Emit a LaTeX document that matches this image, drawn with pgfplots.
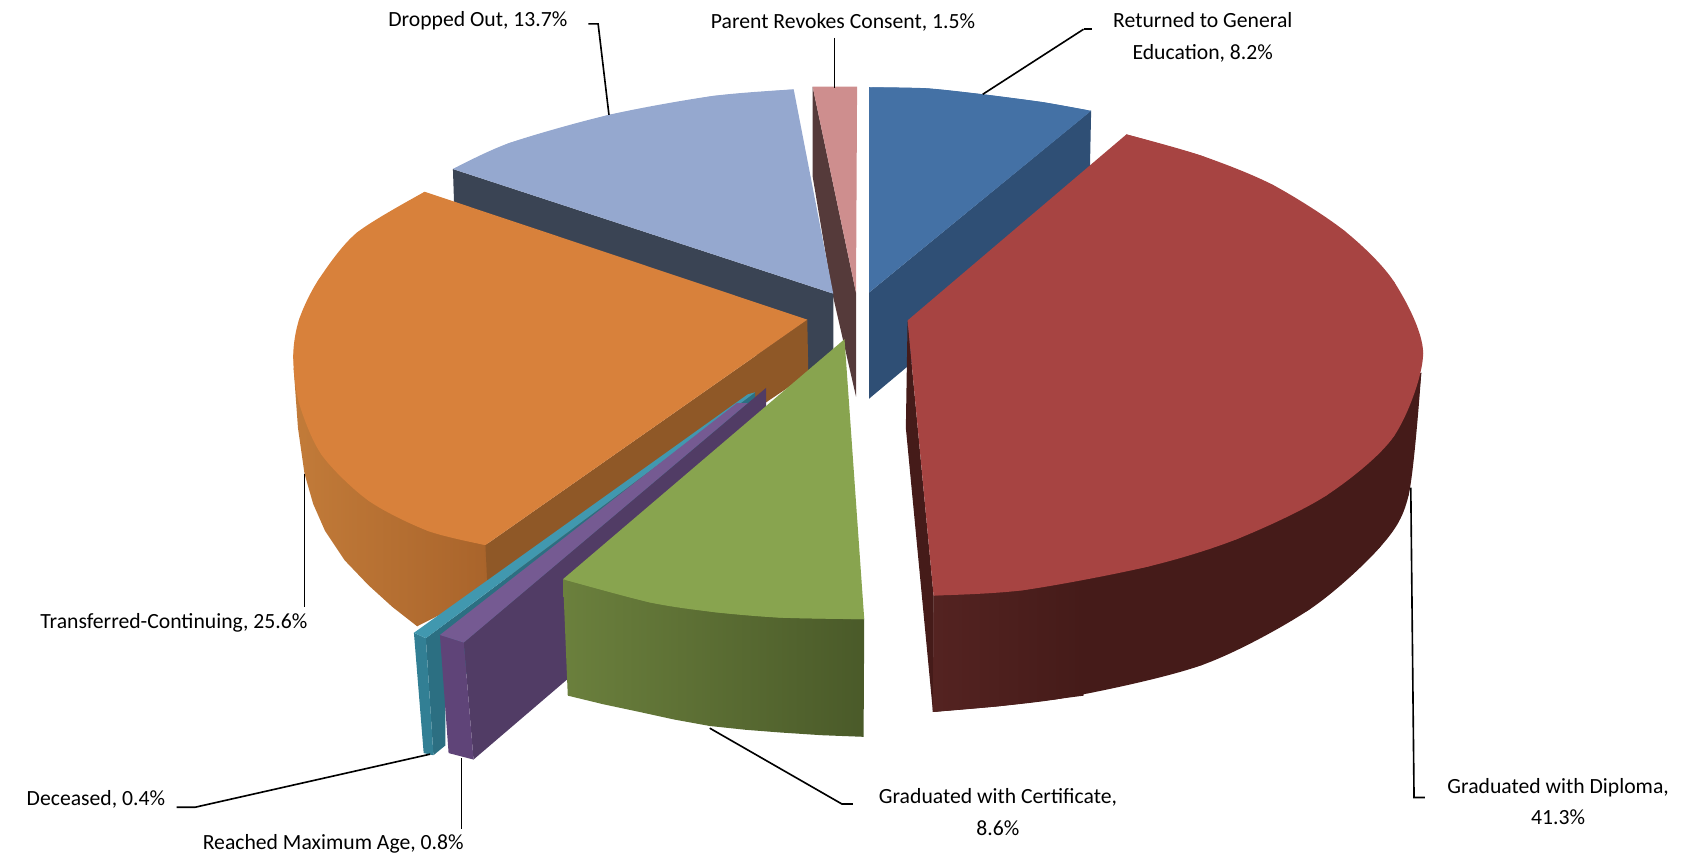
\documentclass[border=0pt]{standalone}
\usepackage{pgfplots}
\pgfplotsset{compat=1.18}
\usepackage{fontspec}
\setmainfont{Carlito}
\definecolor{bluetop}{HTML}{4471A5}
\definecolor{blueside}{HTML}{2F4F75}
\definecolor{redtop}{HTML}{A74442}
\definecolor{redside}{HTML}{451B19}
\definecolor{redwallL}{HTML}{542321}
\definecolor{greentop}{HTML}{88A44F}
\definecolor{greenL}{HTML}{6B803D}
\definecolor{greenR}{HTML}{4A5A29}
\definecolor{purptop}{HTML}{755A92}
\definecolor{purpfront}{HTML}{5F4478}
\definecolor{purpside}{HTML}{513C65}
\definecolor{tealtop}{HTML}{4198AF}
\definecolor{tealfront}{HTML}{327F94}
\definecolor{tealside}{HTML}{2C6F82}
\definecolor{orangetop}{HTML}{D8813B}
\definecolor{orangeside}{HTML}{8F5827}
\definecolor{orangeL}{HTML}{C27B39}
\definecolor{orangeR}{HTML}{A9642B}
\definecolor{peritop}{HTML}{95A8CF}
\definecolor{periside}{HTML}{3A4454}
\definecolor{pinktop}{HTML}{CE8E8E}
\definecolor{pinkside}{HTML}{553A3A}
\pgfplotsset{
  f/.style={draw=none,fill=#1,no markers},
  g/.style 2 args={draw=none,left color=#1,right color=#2,no markers},
  lead/.style={black,line width=0.75pt,no markers},
}
% a face with a curved edge: the polygon, and the same curve smoothed over it
\newcommand\face[3]{%
  \addplot[f=#1] coordinates {#2 #3};
  \addplot[f=#1,smooth] coordinates {#2};
}
\begin{document}
\begin{tikzpicture}
\useasboundingbox (0,0) rectangle (784pt,396.5pt);
\begin{axis}[
  at={(0,0)},anchor=south west,
  scale only axis,width=784pt,height=396.5pt,
  xmin=0,xmax=1568,ymin=0,ymax=793,y dir=reverse,
  axis lines=none,clip=false,
  every node/.append style={font=\fontsize{13.45}{16}\selectfont,text=black,inner sep=0pt},
]
% Returned to General Education
\addplot[f=blueside] coordinates {(802,270)(1007,102)(1005,198)(802,368)};
\face{bluetop}{(802,80.5)(855.5,81.5)(907,87)(962.6,94.3)(1007,102.3)}{(802,270)}
% Parent Revokes Consent
\addplot[f=pinkside] coordinates {(750,80)(790,270)(790,366)(768,270)(750,163)};
\addplot[f=pinktop] coordinates {(750,80)(791,80)(790,270)};
% Dropped Out
\addplot[f=periside] coordinates {(418,156)(769,271)(769,330)(746,352)(419,186)};
\face{peritop}{(418,156)(470,132)(562,106)(657.6,88.6)(732.5,82.5)}{(769,271)}
% Transferred-Continuing
\addplot[g={orangeL}{orangeR}] coordinates {(271,340)(275,395)(281,437)(289,465)(300,490)(318,517)(340,540)(362,560)(385,578)(450,545)(450,450)(330,340)};
\addplot[f=orangeside] coordinates {(745,295)(746,345)(450,545)(448,503)};
\face{orangetop}{(392,177)(329,215)(293.7,258.6)(276,295)(270.6,329)(276,372)(297,420)(340,462)(395,490)(448,503)}{(745,295)}
% Deceased
\addplot[f=tealside] coordinates {(393,589)(697,362)(697,376)(411,640)(411,688)(400,697)};
\addplot[f=tealfront] coordinates {(382,584)(393,589)(400,697)(391,695)};
\addplot[f=tealtop] coordinates {(382,584)(393,589)(697,362)(690,364)};
% Reached Maximum Age
\addplot[f=purpside] coordinates {(707,358)(428,593)(437,701)(707,470)};
\addplot[f=purpfront] coordinates {(406,586)(428,593)(437,701)(414,695)};
\addplot[f=purptop] coordinates {(406,586)(428,593)(690,372)(680,372)};
% Graduated with Certificate
\addplot[g={greenL}{greenR}] coordinates {(519.6,534.5)(797.6,570.7)(797,680)(758,678.5)(720,676)(688,673.5)(655,670)(622,664)(590,657)(557,650)(524,642)};
\face{greentop}{(519.6,534.5)(600,556)(660,565)(720,570)(797.6,571.5)}{(779.4,313)}
% Graduated with Diploma
\addplot[f=redside] coordinates {(837.6,295.7)(836,395)(861,657)(861.6,549.6)};
\face{redside}{(861,657)(977,645)(1108.6,614)(1207.7,563)(1273.6,505)(1300,457)(1311.7,344)}{(1000,530)(861.6,549.6)}
\addplot[g={redwallL}{redside}] coordinates {(861.6,549.6)(1000,530)(1000,642)(977,645)(920,652)(861,657)};
\face{redtop}{(1039.6,124)(1108.6,143.6)(1174.8,170.7)(1240.6,212.9)(1286.7,260.3)(1313.4,326)(1286.6,402.4)(1224,457.3)(1141.6,497.5)(1059,523)(944,544.7)(861.6,549.6)}{(837.6,295.7)}
% leader lines
\addplot[lead] coordinates {(1000,27)(907,87)};
\addplot[lead] coordinates {(1000,27)(1008,27)};
\addplot[lead] coordinates {(770,35)(770,81)};
\addplot[lead] coordinates {(543,22)(552,22)(562,106)};
\addplot[lead] coordinates {(281,437)(281,560)};
\addplot[lead] coordinates {(163,745)(180,745)(397,696)};
\addplot[lead] coordinates {(426,700)(426,765)};
\addplot[lead] coordinates {(655,672)(777,742)(787,742)};
\addplot[lead] coordinates {(1302,450)(1305,736)(1315,736)};
% labels
\node[align=center] at (axis cs:1110,34.5) {Returned to General\\[2.5pt]Education, 8.2\%};
\node at (axis cs:778,21) {Parent Revokes Consent, 1.5\%};
\node at (axis cs:441,19) {Dropped Out, 13.7\%};
\node at (axis cs:160.5,575) {Transferred-Continuing, 25.6\%};
\node at (axis cs:88.5,738) {Deceased, 0.4\%};
\node at (axis cs:307.5,779) {Reached Maximum Age, 0.8\%};
\node[align=center] at (axis cs:921,749.5) {Graduated with Certificate,\\[2.5pt]8.6\%};
\node[align=center] at (axis cs:1438,739.5) {Graduated with Diploma,\\[2.5pt]41.3\%};
\end{axis}
\end{tikzpicture}
\end{document}
